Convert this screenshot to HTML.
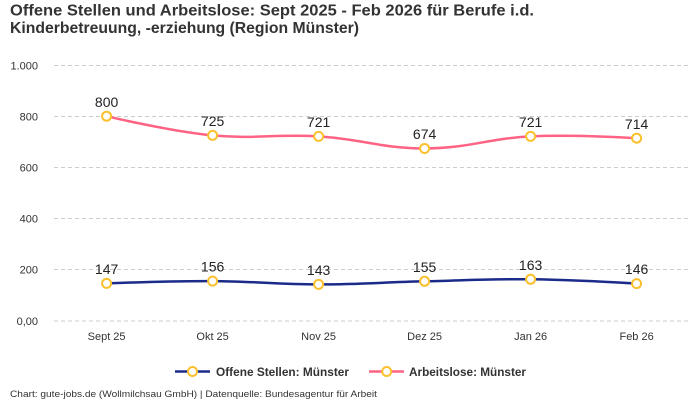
<!DOCTYPE html>
<html><head><meta charset="utf-8"><style>
html,body{margin:0;padding:0;background:#fff;}
svg{display:block;font-family:"Liberation Sans",Arial,sans-serif;}
</style></head><body>
<svg width="700" height="400" viewBox="0 0 700 400" xmlns="http://www.w3.org/2000/svg">
<rect width="700" height="400" fill="#fff"/>
<text x="10" y="15.5" font-size="16" font-weight="bold" fill="#333" textLength="524" lengthAdjust="spacingAndGlyphs">Offene Stellen und Arbeitslose: Sept 2025 - Feb 2026 für Berufe i.d.</text>
<text x="10" y="33" font-size="16" font-weight="bold" fill="#333" textLength="349" lengthAdjust="spacingAndGlyphs">Kinderbetreuung, -erziehung (Region Münster)</text>
<g stroke="#cccccc" stroke-width="1" stroke-dasharray="4,3">
<line x1="54" y1="65.5" x2="688" y2="65.5"/>
<line x1="54" y1="116.5" x2="688" y2="116.5"/>
<line x1="54" y1="167.5" x2="688" y2="167.5"/>
<line x1="54" y1="218.5" x2="688" y2="218.5"/>
<line x1="54" y1="269.5" x2="688" y2="269.5"/>
<line x1="54" y1="321" x2="688" y2="321"/>
</g>
<g font-size="11" fill="#333" text-anchor="end">
<text x="38" y="69.5">1.000</text>
<text x="38" y="120.5">800</text>
<text x="38" y="171.5">600</text>
<text x="38" y="222.5">400</text>
<text x="38" y="273.5">200</text>
<text x="38" y="325">0,00</text>
</g>
<g font-size="11" fill="#333" text-anchor="middle">
<text x="106.6" y="340">Sept 25</text>
<text x="212.6" y="340">Okt 25</text>
<text x="318.6" y="340">Nov 25</text>
<text x="424.6" y="340">Dez 25</text>
<text x="530.6" y="340">Jan 26</text>
<text x="636.6" y="340">Feb 26</text>
</g>
<path d="M106.6,116.2 C106.6,116.2 169.9,131.3 212.6,135.4 C254.7,139.4 276.4,133.8 318.6,136.4 C361.2,139.0 382.2,148.5 424.6,148.5 C467.0,148.5 488.1,138.5 530.6,136.4 C572.9,134.3 636.6,138.2 636.6,138.2" fill="none" stroke="#ff6384" stroke-width="2.5"/>
<path d="M106.6,283.4 C106.6,283.4 170.2,280.9 212.6,281.1 C255.0,281.3 276.2,284.36 318.6,284.4 C361.0,284.44 382.2,282.3 424.6,281.3 C467.0,280.3 488.2,278.8 530.6,279.3 C573.0,279.8 636.6,283.6 636.6,283.6" fill="none" stroke="#1a2b8a" stroke-width="2.5"/>
<g fill="#fff" stroke="#fbc02d" stroke-width="2">
<circle cx="106.6" cy="116.2" r="4.5"/>
<circle cx="212.6" cy="135.4" r="4.5"/>
<circle cx="318.6" cy="136.4" r="4.5"/>
<circle cx="424.6" cy="148.5" r="4.5"/>
<circle cx="530.6" cy="136.4" r="4.5"/>
<circle cx="636.6" cy="138.2" r="4.5"/>
<circle cx="106.6" cy="283.4" r="4.5"/>
<circle cx="212.6" cy="281.1" r="4.5"/>
<circle cx="318.6" cy="284.4" r="4.5"/>
<circle cx="424.6" cy="281.3" r="4.5"/>
<circle cx="530.6" cy="279.3" r="4.5"/>
<circle cx="636.6" cy="283.6" r="4.5"/>
</g>
<g font-size="14" fill="#222" text-anchor="middle">
<text x="106.6" y="107">800</text>
<text x="212.6" y="126">725</text>
<text x="318.6" y="127">721</text>
<text x="424.6" y="139">674</text>
<text x="530.6" y="127">721</text>
<text x="636.6" y="129">714</text>
<text x="106.6" y="274">147</text>
<text x="212.6" y="271.5">156</text>
<text x="318.6" y="275">143</text>
<text x="424.6" y="272">155</text>
<text x="530.6" y="270">163</text>
<text x="636.6" y="274">146</text>
</g>
<line x1="175" y1="371.5" x2="210" y2="371.5" stroke="#1a2b8a" stroke-width="2.5"/>
<circle cx="192.5" cy="371.5" r="4.5" fill="#fff" stroke="#fbc02d" stroke-width="2"/>
<text x="216" y="376" font-size="12" font-weight="bold" fill="#333" textLength="133" lengthAdjust="spacingAndGlyphs">Offene Stellen: Münster</text>
<line x1="369" y1="371.5" x2="404" y2="371.5" stroke="#ff6384" stroke-width="2.5"/>
<circle cx="386.7" cy="371.5" r="4.5" fill="#fff" stroke="#fbc02d" stroke-width="2"/>
<text x="409" y="376" font-size="12" font-weight="bold" fill="#333" textLength="117" lengthAdjust="spacingAndGlyphs">Arbeitslose: Münster</text>
<text x="10" y="397" font-size="9.5" fill="#333" textLength="367" lengthAdjust="spacingAndGlyphs">Chart: gute-jobs.de (Wollmilchsau GmbH) | Datenquelle: Bundesagentur für Arbeit</text>
</svg>
</body></html>
